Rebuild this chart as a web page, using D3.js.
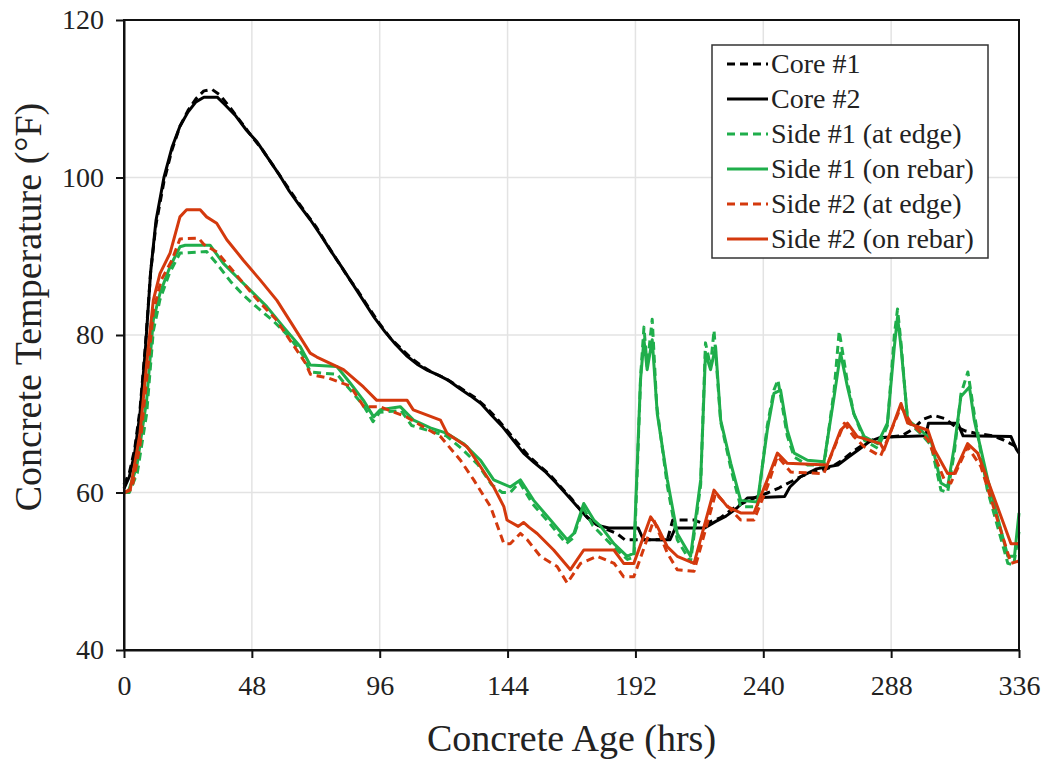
<!DOCTYPE html>
<html>
<head>
<meta charset="utf-8">
<script src="https://cdn.jsdelivr.net/npm/d3@7"></script>
<style>
  html, body { margin: 0; padding: 0; background: #fff; }
  svg { display: block; font-family: "Liberation Serif", "Times New Roman", serif; }
</style>
</head>
<body>
<svg id="chart" width="1047" height="759"></svg>
<script>
// ---- Data ----
const xTicks = [0, 48, 96, 144, 192, 240, 288, 336];
const yTicks = [40, 60, 80, 100, 120];
const seriesNames = ["Core #1", "Core #2", "Side #1 (at edge)", "Side #1 (on rebar)", "Side #2 (at edge)", "Side #2 (on rebar)"];

const core1 = [[0,61],[2,62.5],[4,65.5],[6,70.5],[8,78.5],[10,88],[12,94],[15,99.5],[18,103.5],[21,106.5],[24,108.5],[27,110],[30,111],[33,111.2],[36,110.5],[40,108.8],[44,107],[48,105.2],[52,103.5],[56,101.5],[60,99.5],[64,97.5],[68,95.6],[72,93.8],[76,91.6],[80,89.5],[84,87.4],[88,85.5],[92,83.4],[96,81.4],[100,79.6],[104,78.3],[108,77],[112,76],[116,75.2],[120,74.6],[124,73.8],[128,72.9],[132,72],[136,70.8],[140,69.4],[144,67.8],[148,66.2],[152,64.6],[156,63.4],[160,62.2],[164,60.7],[168,59.2],[172,57.5],[176,56.2],[180,55.5],[185,54.8],[188,54],[204,54],[206,56.5],[214,56.5],[218,56],[224,56.8],[228,57.8],[232,58.6],[238,59.5],[242,60],[246,60.6],[250,61.3],[254,62],[258,62.6],[262,62.8],[266,63.3],[270,64.2],[274,65.3],[278,66.2],[282,66.8],[286,67],[292,67.2],[296,68],[300,69.3],[304,69.8],[308,69.4],[312,68.4],[316,67.8],[320,67.5],[326,67.2],[330,66.7],[334,66],[336,65.5]];

const core2 = [[0,60.5],[2,62],[4,65],[6,70],[8,78],[10,88],[12,94.5],[15,100],[18,103.8],[21,106.5],[24,108.3],[27,109.6],[30,110.2],[35,110.2],[38,109.2],[42,107.8],[46,106],[50,104.5],[54,102.5],[58,100.5],[62,98.3],[66,96.4],[70,94.6],[74,92.6],[78,90.5],[82,88.5],[86,86.4],[90,84.3],[94,82.2],[98,80.4],[102,78.8],[106,77.4],[110,76.3],[114,75.5],[118,74.9],[122,74.2],[126,73.2],[130,72.3],[134,71.3],[138,69.8],[142,68.4],[146,66.7],[150,65],[154,63.8],[158,62.7],[162,61.3],[166,59.8],[170,58.3],[174,56.8],[178,55.8],[182,55.5],[193,55.5],[195,54],[205,54],[207,55.5],[218,55.5],[222,56.3],[226,57],[230,58],[234,59.3],[248,59.5],[250,60.7],[254,62],[260,63],[268,63.5],[272,64.5],[276,65.5],[280,66.5],[284,67],[301,67.2],[302,68.8],[313,68.8],[315,67.2],[333,67.1],[335,65.5],[336,65]];

const side1Edge = [[0,60],[2,60],[5,62.5],[8.5,70],[11,80.5],[13.5,84.5],[17,87.8],[21,90.4],[31,90.6],[35,89],[40,86.8],[45,85],[50,83.5],[56,81.8],[62,79.8],[67,77.5],[70,75.3],[80,75],[85,73],[90,71],[93.5,69],[96,70.2],[104,70.4],[108,68.5],[115,67.8],[121,67.2],[127,65.5],[133,63.5],[138,61],[142,60],[145,60],[148.5,61.3],[153.5,58.5],[160,56],[166,53.5],[168.5,54.2],[172.5,58],[176,55.8],[184,53],[189,51.5],[191.5,51.8],[194,75],[195.2,81],[196.4,76],[198.3,82],[200,71],[204,60.8],[207.7,54],[212.7,51.2],[216.5,61],[218.3,79],[220.2,76],[221.5,80.6],[224,69],[228,62.8],[231.5,58.2],[237.8,58.2],[241.5,68.5],[244,73],[245.5,74.3],[249,67.2],[251.6,64.5],[256.6,63.5],[262.8,63.5],[266.6,73],[268.5,80.5],[271.6,74],[274,70],[278,66.6],[283,65.6],[286.6,68.5],[289.2,80],[290.4,83.3],[291.7,79],[294.2,69],[299,67.5],[303,66],[306.7,60.3],[309.2,60],[311.7,65],[314.2,72.5],[316.8,75.3],[319.2,70],[324,60.5],[331.8,51],[334,50.8],[336,55]];

const side1Rebar = [[0,60],[1.5,60],[4.8,63.3],[8.5,71.7],[11,81.9],[13.5,85.3],[17.3,88.7],[21,91.2],[23,91.4],[32.3,91.4],[37.3,89.1],[42.3,87.4],[47.4,85.7],[53.6,83.6],[59.9,81],[66.2,78.5],[69.9,76.2],[79.9,76],[84.9,73.9],[89.9,71.7],[93.7,69.6],[96.2,70.5],[103.7,70.9],[108.7,69.2],[115,68.2],[121.3,67.5],[127.5,66.2],[133.8,64.1],[138.8,61.6],[145,60.7],[148.8,61.6],[153.8,59],[160.1,56.5],[166.4,54],[168.9,54.8],[172.6,58.6],[176.4,56.5],[179,55.7],[183.9,53.5],[188.9,51.9],[191.4,52.3],[193.9,74.3],[195.2,79.4],[196.4,75.6],[198.3,79.4],[200.2,70],[204,61.6],[207.7,54.8],[212.7,51.9],[216.5,61.6],[218.3,77.7],[220.2,75.6],[222.1,78.5],[224,69.2],[227.8,63.7],[231.5,59],[237.8,58.8],[241.5,67.9],[244,72.6],[246.5,73],[249,67.9],[251.6,65],[256.6,64.1],[262.8,63.9],[266.6,72.2],[269,77.7],[271.6,73.4],[274,70],[277.9,67.1],[282.9,66.2],[286.6,68.8],[289.2,78.5],[290.4,82.3],[291.7,78.5],[294.2,69.2],[299.2,67.9],[302.9,66.7],[306.7,61.2],[309.2,60.7],[311.7,65.8],[314.2,72.2],[317.4,73.4],[319.2,69.2],[324.3,61.6],[331.8,51.9],[334.3,51.9],[336,57.4]];

const side2Edge = [[0,60],[3,60.5],[6,66],[9,76],[11,83],[14,87],[18,89.5],[21,92.2],[28,92.3],[30,91.5],[35,90.5],[40,88.5],[45,86.5],[50,84.5],[57,82],[63,79],[68,76.5],[70,75],[77,74.5],[85,73.5],[90,70.9],[96,70.9],[106,69.6],[118.8,67.1],[126.3,64.1],[131.3,61.6],[137.6,58.2],[142.6,53.5],[145,53.5],[148.8,54.8],[151.4,54],[156.3,51.9],[162.6,50.6],[166.4,48.5],[171.4,51],[177.7,51.9],[184,51],[187.6,49.3],[191.4,49.3],[198.9,56.5],[204,52.3],[207.7,50.2],[214,50],[222.1,59.9],[229,57.4],[231.5,56.5],[236.5,56.5],[241.5,60.7],[245.3,64.6],[250.3,62.6],[262.7,62.4],[270.4,68.8],[274,67.1],[277.9,65.8],[284,64.6],[291.7,70.9],[295.5,68.8],[301.8,66.7],[308,61.6],[310.4,61.2],[316.7,65.8],[321.7,63.3],[333,51],[336,51.3]];

const side2Rebar = [[0,59.9],[2.3,60.3],[6,67.5],[9,78],[11,84.4],[13.5,87.8],[17.3,90.4],[21,95],[23.5,95.9],[28.6,95.9],[31,95],[34.8,94.2],[38.6,92.1],[44.8,89.5],[51.1,87],[57.4,84.4],[63.6,81.1],[69.9,77.7],[72.4,77.2],[77.4,76.4],[82.4,75.6],[89.9,73.4],[94.9,71.7],[106.3,71.7],[108.6,70.5],[118.8,69.2],[121.3,67.5],[128.8,65.8],[133.8,63.3],[138.8,60.7],[142.6,58.2],[143.8,56.5],[148,55.7],[150,56.2],[152,55.6],[155.1,54.8],[161.3,52.7],[167.6,50.2],[172.6,52.7],[183.9,52.7],[187.6,51],[191.4,51],[197.7,56.9],[200.2,55.7],[204,53.1],[207.7,51.9],[214,51],[221.5,60.3],[226.5,58.2],[231.5,57.4],[236.5,57.4],[241.5,61.6],[245.3,65],[249,63.7],[264,63.5],[269,67.9],[271.6,68.8],[275.3,67.1],[284,66.2],[285.3,65.4],[291.7,71.3],[294.2,68.8],[301.8,67.9],[304.3,65.4],[309.2,62.4],[311.6,62.4],[316.7,66.2],[320.5,65],[333,53.5],[336,53.5]];

const seriesData = [core1, core2, side1Edge, side1Rebar, side2Edge, side2Rebar];
const seriesColors = ["#000000", "#000000", "#1fae4b", "#1fae4b", "#d4390d", "#d4390d"];
const seriesDashed = [true, false, true, false, true, false];

// ---- Layout ----
const FONT = '"Liberation Serif", "Times New Roman", serif';
const svg = d3.select("#chart");
const L = 124, R = 1019, T = 20, B = 650;

const x = d3.scaleLinear().domain([0, 336]).range([L, R]);
const y = d3.scaleLinear().domain([40, 120]).range([B, T]);

// gridlines
const grid = svg.append("g");
grid.selectAll("line.gx").data(xTicks.slice(1, -1)).enter().append("line")
  .attr("x1", d => x(d)).attr("x2", d => x(d)).attr("y1", T).attr("y2", B)
  .attr("stroke", "#e3e3e3").attr("stroke-width", 1.5);
grid.selectAll("line.gy").data(yTicks.slice(1, -1)).enter().append("line")
  .attr("x1", L).attr("x2", R).attr("y1", d => y(d)).attr("y2", d => y(d))
  .attr("stroke", "#e3e3e3").attr("stroke-width", 1.5);

// series
const line = d3.line().x(d => x(d[0])).y(d => y(d[1]));
const lines = svg.append("g");
seriesData.forEach((data, i) => {
  lines.append("path")
    .datum(data)
    .attr("d", line)
    .attr("fill", "none")
    .attr("stroke", seriesColors[i])
    .attr("stroke-width", 3)
    .attr("stroke-linejoin", "round")
    .attr("stroke-dasharray", seriesDashed[i] ? "8,5" : null);
});

// frame
svg.append("rect").attr("x", L).attr("y", T).attr("width", R - L).attr("height", B - T)
  .attr("fill", "none").attr("stroke", "#111").attr("stroke-width", 2);

// axes
const xAxis = d3.axisBottom(x).tickValues(xTicks).tickSize(8).tickSizeOuter(0).tickPadding(17);
const yAxis = d3.axisLeft(y).tickValues(yTicks).tickSize(8).tickSizeOuter(0).tickPadding(12);

const gx = svg.append("g").attr("transform", `translate(0,${B})`).call(xAxis);
const gy = svg.append("g").attr("transform", `translate(${L},0)`).call(yAxis);
[gx, gy].forEach(g => {
  g.attr("font-family", FONT).attr("font-size", 28);
  g.select(".domain").attr("stroke", "#111").attr("stroke-width", 2);
  g.selectAll(".tick line").attr("stroke", "#111").attr("stroke-width", 2);
  g.selectAll(".tick text").attr("fill", "#222")
    .style("font-family", FONT).style("font-size", "28px");
});

// axis titles
svg.append("text").attr("x", (L + R) / 2).attr("y", 751)
  .attr("text-anchor", "middle").attr("fill", "#222")
  .style("font-family", FONT).style("font-size", "38px").text("Concrete Age (hrs)");
svg.append("text").attr("transform", `translate(41,307) rotate(-90)`)
  .attr("text-anchor", "middle").attr("fill", "#222")
  .style("font-family", FONT).style("font-size", "38px").text("Concrete Temperature (°F)");

// legend
const lg = svg.append("g");
lg.append("rect").attr("x", 712).attr("y", 45).attr("width", 276).attr("height", 213)
  .attr("fill", "#fff").attr("stroke", "#333").attr("stroke-width", 1.5);
seriesNames.forEach((name, i) => {
  const cy = 64 + i * 35;
  lg.append("line").attr("x1", 727).attr("x2", 768).attr("y1", cy).attr("y2", cy)
    .attr("stroke", seriesColors[i]).attr("stroke-width", 3)
    .attr("stroke-dasharray", seriesDashed[i] ? "8,5" : null);
  lg.append("text").attr("x", 771).attr("y", cy + 9).attr("fill", "#222")
    .style("font-family", FONT).style("font-size", "28px").text(name);
});
</script>
</body>
</html>
